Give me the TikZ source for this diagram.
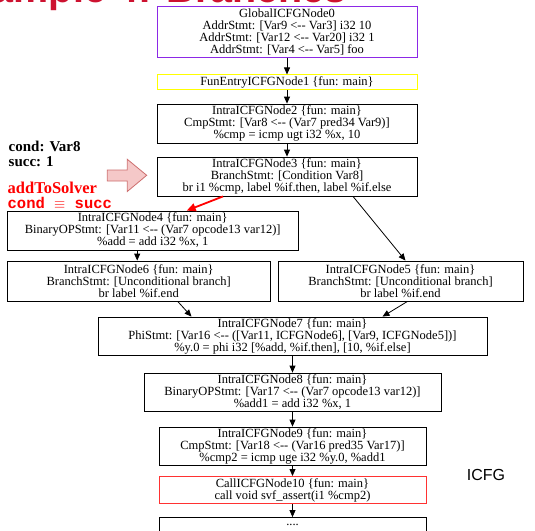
\documentclass[tikz,border=0pt]{standalone}
\usepackage{fontspec}
\setmainfont{Liberation Serif}
\newfontfamily\labelsans{Liberation Sans}
\newfontfamily\codemono{Liberation Mono}
\usetikzlibrary{arrows.meta}

\definecolor{gvpurple}{RGB}{140,40,230}
\definecolor{gvyellow}{RGB}{255,255,0}
\definecolor{gvred}{RGB}{255,50,50}
\definecolor{titlered}{RGB}{205,18,48}
\definecolor{hintfill}{RGB}{245,200,200}
\definecolor{hintdraw}{RGB}{205,110,110}

\newcommand{\lto}{<-{}-}

\begin{document}
\begin{tikzpicture}[x = 1pt, y = -1pt, font = \fontsize{12.5}{12}\selectfont,
	icfg/.style = {draw, line width = 0.8pt, align = center, inner sep = 1pt},
	edge/.style = {-{Triangle[length = 7pt, width = 6pt]}, line width = 0.8pt},
	hot/.style = {-{Triangle[length = 9pt, width = 8pt]}, line width = 1.8pt, red},
	note/.style = {anchor = base west, inner sep = 0pt, font = \bfseries\fontsize{15}{15}\selectfont}]

	\useasboundingbox (0, 0) rectangle (535, 530);
	\clip (0, 0) rectangle (535, 530);

	\node [anchor = base east, inner sep = 0pt, text = titlered, font = \labelsans\bfseries\fontsize{39.5}{39.5}\selectfont] (title) at (347, 2) {Example 4: Branches};

	\node [icfg, draw = gvpurple, line width = 1pt, minimum width = 260, minimum height = 51] (n0) at (287, 31.5)
		{GlobalICFGNode0\\AddrStmt: [Var9 \lto{} Var3] i32 10\\AddrStmt: [Var12 \lto{} Var20] i32 1\\AddrStmt: [Var4 \lto{} Var5] foo};
	\node [icfg, draw = gvyellow, line width = 1pt, minimum width = 260, minimum height = 14.5] (n1) at (287, 82.2)
		{FunEntryICFGNode1 \{fun: main\}};
	\node [icfg, minimum width = 260, minimum height = 39] (n2) at (287, 123.5)
		{IntraICFGNode2 \{fun: main\}\\CmpStmt: [Var8 \lto{} (Var7 pred34 Var9)]\\\%cmp = icmp ugt i32 \%x, 10};
	\node [icfg, minimum width = 260, minimum height = 39] (n3) at (287, 176.5)
		{IntraICFGNode3 \{fun: main\}\\BranchStmt: [Condition Var8]\\br i1 \%cmp, label \%if.then, label \%if.else};
	\node [icfg, minimum width = 290.5, minimum height = 39] (n4) at (152.7, 230.5)
		{IntraICFGNode4 \{fun: main\}\\BinaryOPStmt: [Var11 \lto{} (Var7 opcode13 var12)]\\\%add = add i32 \%x, 1};
	\node [icfg, minimum width = 262.5, minimum height = 40] (n6) at (138.7, 281)
		{IntraICFGNode6 \{fun: main\}\\BranchStmt: [Unconditional branch]\\br label \%if.end};
	\node [icfg, minimum width = 245, minimum height = 40] (n5) at (400.5, 281)
		{IntraICFGNode5 \{fun: main\}\\BranchStmt: [Unconditional branch]\\br label \%if.end};
	\node [icfg, minimum width = 389, minimum height = 38] (n7) at (292.5, 336)
		{IntraICFGNode7 \{fun: main\}\\PhiStmt: [Var16 \lto{} ([Var11, ICFGNode6], [Var9, ICFGNode5])]\\\%y.0 = phi i32 [\%add, \%if.then], [10, \%if.else]};
	\node [icfg, minimum width = 297, minimum height = 38] (n8) at (292.5, 392)
		{IntraICFGNode8 \{fun: main\}\\BinaryOPStmt: [Var17 \lto{} (Var7 opcode13 var12)]\\\%add1 = add i32 \%x, 1};
	\node [icfg, minimum width = 267, minimum height = 38] (n9) at (292.5, 446)
		{IntraICFGNode9 \{fun: main\}\\CmpStmt: [Var18 \lto{} (Var16 pred35 Var17)]\\\%cmp2 = icmp uge i32 \%y.0, \%add1};
	\node [icfg, draw = gvred, line width = 1pt, minimum width = 267, minimum height = 27] (n10) at (292.5, 490)
		{CallICFGNode10 \{fun: main\}\\call void svf\_assert(i1 \%cmp2)};
	\node [icfg, minimum width = 267, minimum height = 15] (n11) at (292.5, 525)
		{....};

	\node [anchor = center, font = \labelsans\fontsize{16}{16}\selectfont] (icfglabel) at (486, 475) {ICFG};

	\draw [edge] (n0) -- (n1);
	\draw [edge] (n1) -- (n2);
	\draw [edge] (n2) -- (n3);
	\draw [hot] ([xshift = -64pt]n3.south) -- ([xshift = 34pt]n4.north);
	\draw [edge] ([xshift = 66pt]n3.south) -- ([xshift = 5pt]n5.north);
	\draw [edge] ([xshift = -15.5pt]n4.south) -- ([xshift = -1.5pt]n6.north);
	\draw [edge] ([xshift = 39pt]n6.south) -- ([xshift = -101pt]n7.north);
	\draw [edge] ([xshift = 7pt]n5.south) -- ([xshift = 90pt]n7.north);
	\draw [edge] (n7) -- (n8);
	\draw [edge] (n8) -- (n9);
	\draw [edge] (n9) -- (n10);
	\draw [edge] (n10) -- (n11);

	\node [note] (cond) at (8.5, 151.7) {cond: Var8};
	\node [note] (succ) at (8.5, 166.5) {succ: 1};
	\node [note, text = red, font = \bfseries\fontsize{16.5}{16.5}\selectfont] (solver) at (7.5, 193) {addToSolver};
	\node [note, text = red, font = \codemono\bfseries\fontsize{15.5}{15.5}\selectfont] (equiv) at (7.5, 208) {cond $\equiv$ succ};

	\draw [fill = hintfill, draw = hintdraw, line width = 0.8pt] (107.3, 170) -- (127.3, 170) -- (127.3, 159.3) -- (146.7, 175.3)
		-- (127.3, 191.5) -- (127.3, 181) -- (107.3, 181) -- cycle;

\end{tikzpicture}
\end{document}
